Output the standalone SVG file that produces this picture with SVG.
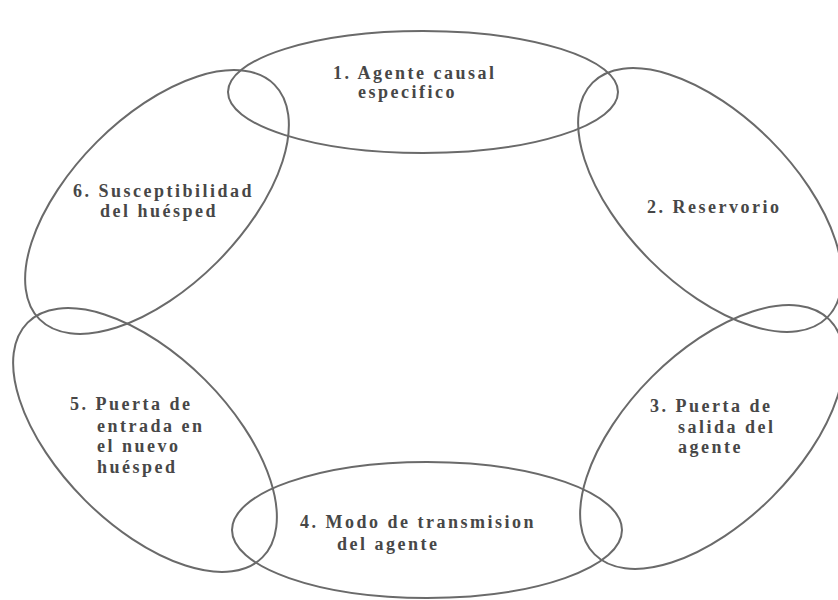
<svg xmlns="http://www.w3.org/2000/svg" width="838" height="600" viewBox="0 0 838 600">
<style>
.ring{fill:none;stroke:#6a6a6a;stroke-width:2}
.lbl{font-family:"Liberation Serif","Times New Roman",serif;font-weight:bold;font-size:18px;letter-spacing:2.5px;fill:#474747}
</style>
<rect width="838" height="600" fill="#ffffff"/>
<g id="node1">
<ellipse class="ring" cx="423" cy="92" rx="195" ry="61"/>
<text class="lbl" x="333" y="79">1. Agente causal</text>
<text class="lbl" x="358" y="98">especifico</text>
</g>
<g id="node2">
<ellipse class="ring" cx="0" cy="0" rx="166" ry="85" transform="translate(710 200) rotate(45)"/>
<text class="lbl" x="647" y="213">2. Reservorio</text>
</g>
<g id="node3">
<ellipse class="ring" cx="0" cy="0" rx="166" ry="85" transform="translate(712 437) rotate(-45)"/>
<text class="lbl" x="650" y="412">3. Puerta de</text>
<text class="lbl" x="678" y="433">salida del</text>
<text class="lbl" x="678" y="453">agente</text>
</g>
<g id="node4">
<ellipse class="ring" cx="427" cy="530" rx="195" ry="68"/>
<text class="lbl" x="300" y="528">4. Modo de transmision</text>
<text class="lbl" x="337" y="550">del agente</text>
</g>
<g id="node5">
<ellipse class="ring" cx="0" cy="0" rx="166" ry="85" transform="translate(145 440) rotate(45)"/>
<text class="lbl" x="70" y="410">5. Puerta de</text>
<text class="lbl" x="97" y="432">entrada en</text>
<text class="lbl" x="97" y="452">el nuevo</text>
<text class="lbl" x="97" y="473">huésped</text>
</g>
<g id="node6">
<ellipse class="ring" cx="0" cy="0" rx="166" ry="85" transform="translate(157 202) rotate(-45)"/>
<text class="lbl" x="73" y="197">6. Susceptibilidad</text>
<text class="lbl" x="100" y="217">del huésped</text>
</g>
<g id="connectors"></g>
</svg>
